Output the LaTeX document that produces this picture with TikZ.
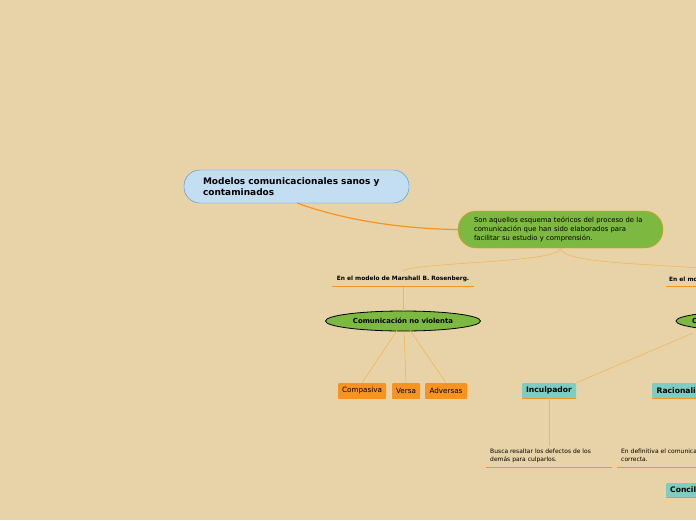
\documentclass[tikz,border=0pt]{standalone}
\usepackage{fontspec}
\setmainfont{DejaVu Sans}
\usetikzlibrary{shapes,arrows}
\definecolor{fondo}{HTML}{E8D3A8}
\definecolor{azul}{HTML}{C3DEF3}
\definecolor{azulborde}{HTML}{3D8FD6}
\definecolor{verde}{HTML}{7DB940}
\definecolor{naranja}{HTML}{F7931E}
\definecolor{turquesa}{HTML}{7DCDC2}
\definecolor{linea}{HTML}{F4B559}

\begin{document}
\begin{tikzpicture}[x=1pt, y=-1pt]
		\fill[fondo] (0,0) rectangle (696,520);
		\clip (0,0) rectangle (696,520);
		\tikzstyle{every node}=[inner sep=0pt, text=black];
		\tikzstyle{conector}=[draw=linea, line width=0.6pt];
		\tikzstyle{subrayado}=[draw=naranja, line width=1pt];
		\tikzstyle{caja}=[fill=naranja, minimum height=15pt, rounded corners=1pt, font=\fontsize{7.2}{8}\selectfont];
		\tikzstyle{cajat}=[fill=turquesa, minimum height=15pt, rounded corners=1pt, font=\bfseries\fontsize{7.6}{8}\selectfont];
		\tikzstyle{ovalo}=[draw=black, fill=verde, shape=ellipse, minimum width=155pt, minimum height=20pt, line width=0.8pt, font=\bfseries\fontsize{6.9}{8}\selectfont];
		\tikzstyle{etiqueta}=[font=\bfseries\fontsize{5.9}{7}\selectfont];
		\tikzstyle{nota}=[align=left, font=\fontsize{6}{8}\selectfont];
		% nodos
		\node[draw=azulborde, fill=azul, rounded corners=16pt, minimum width=225pt, minimum height=33pt, text width=187pt, align=left, font=\bfseries\fontsize{9}{11}\selectfont] (titulo) at (296.5,186.5) {Modelos comunicacionales sanos y\\contaminados};
		\node[draw=naranja, fill=verde, rounded corners=18pt, minimum width=205pt, minimum height=37pt, text width=173pt, align=left, font=\fontsize{6.85}{9}\selectfont] (definicion) at (560.5,229.5) {Son aquellos esquema teóricos del proceso de la\\comunicación que han sido elaborados para\\facilitar su estudio y comprensión.};
		\node[etiqueta] (rosenberg) at (403,279) {En el modelo de Marshall B. Rosenberg.};
		\node[etiqueta, anchor=west] (otromodelo) at (669,279) {En el mo};
		\node[ovalo] (cnv) at (403,321) {Comunicación no violenta};
		\node[ovalo] (cnvb) at (753.5,321) {};
		\node[font=\bfseries\fontsize{6.9}{8}\selectfont, anchor=west] at (692,321) {C};
		\node[caja, minimum width=48pt] (compasiva) at (362,390.5) {Compasiva};
		\node[caja, minimum width=28pt] (versa) at (406,390.5) {Versa};
		\node[caja, minimum width=42pt] (adversas) at (446,390.5) {Adversas};
		\node[cajat, minimum width=54pt] (inculpador) at (549,390.5) {Inculpador};
		\node[cajat, inner xsep=4.5pt, text width=55pt, align=left, anchor=west] (racionalis) at (652,390.5) {Racionalis};
		\node[cajat, minimum height=14pt, inner xsep=4pt, text width=40pt, align=left, anchor=west] (concili) at (666,490) {Concili};
		\node[nota, anchor=north west] (busca) at (490,449) {Busca resaltar los defectos de los\\demás para culparlos.};
		\node[nota, anchor=north west] (definitiva) at (621,449) {En definitiva el comunica\\correcta.};
		% subrayados
		\draw[subrayado] (332,286.5) -- (474,286.5);
		\draw[subrayado] (666,286.5) -- (700,286.5);
		\draw[subrayado] (compasiva.south west) -- (compasiva.south east);
		\draw[subrayado] (versa.south west) -- (versa.south east);
		\draw[subrayado] (adversas.south west) -- (adversas.south east);
		\draw[subrayado] (inculpador.south west) -- (inculpador.south east);
		\draw[subrayado] (racionalis.south west) -- (racionalis.south east);
		\draw[subrayado] (concili.south west) -- (concili.south east);
		\draw[subrayado] (486,467.5) -- (612,467.5);
		\draw[subrayado] (617,467.5) -- (700,467.5);
		% conectores
		\draw[draw=naranja, line width=1.2pt] (297,203) .. controls (340,219) and (400,229) .. (definicion.west);
		\draw[conector] (definicion.south) .. controls (561,263) and (415,262) .. (403,271);
		\draw[conector] (definicion.south) .. controls (561,263) and (650,264) .. (700,268);
		\draw[conector] (403,287) -- (cnv.north);
		\draw[conector] (cnv.south) ++(-6,-1) -- (compasiva.north);
		\draw[conector] (cnv.south) ++(1,0) -- (versa.north);
		\draw[conector] (cnv.south) ++(7,-1) -- (adversas.north);
		\draw[conector] (693,333) -- (inculpador.north east);
		\draw[conector] (inculpador.south) -- (549,446);
\end{tikzpicture}
\end{document}
